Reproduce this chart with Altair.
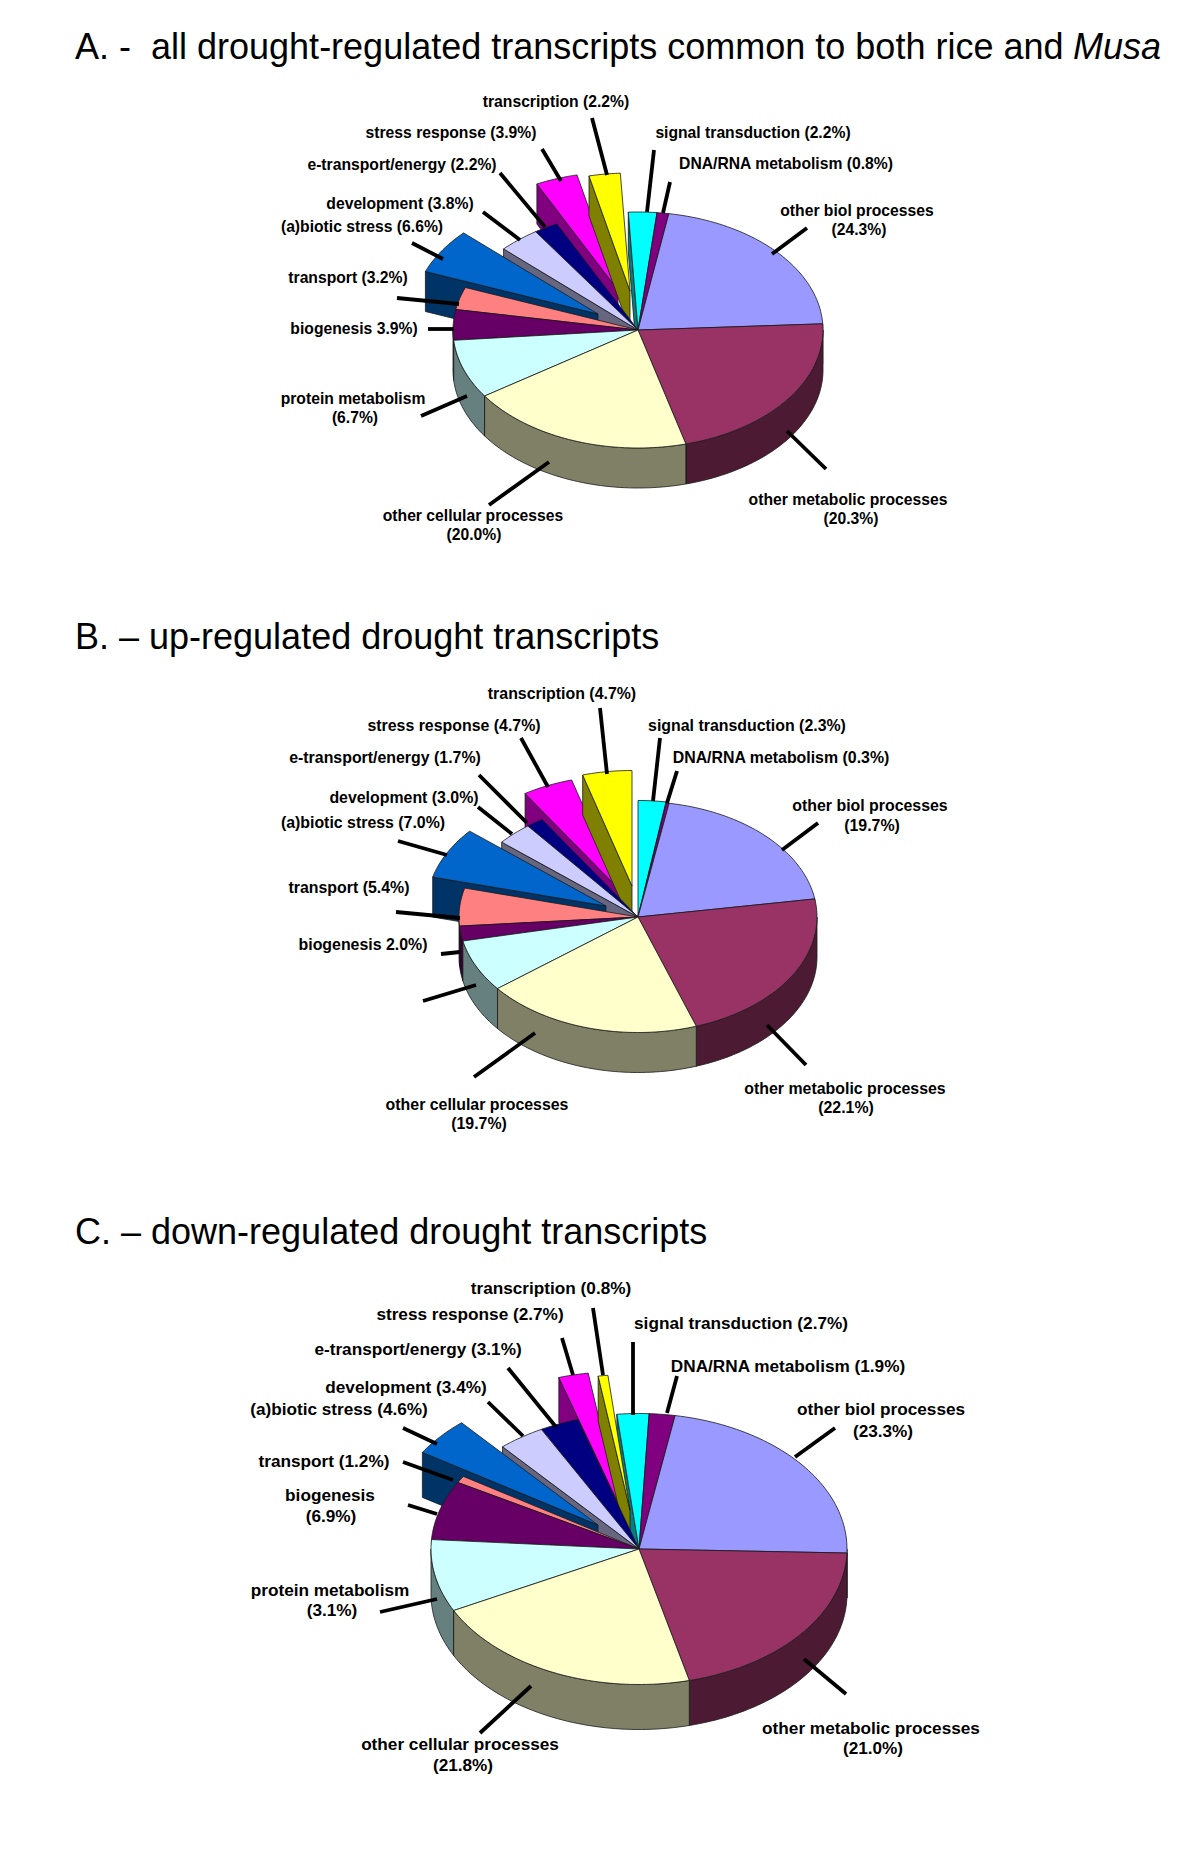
import math
import altair as alt

W, H = 1184, 1834
MARGIN = 8
FONT = "Liberation Sans"

# slice order, clockwise from the top of each pie
slices = ["signal", "dna", "biol", "metabolic", "cellular", "protein", "biogenesis",
          "transport", "abiotic", "development", "etransport", "stress", "transcription"]
top_colors = ["#00FFFF", "#800080", "#9999FF", "#993366", "#FFFFCC", "#CCFFFF", "#660066",
              "#FF8080", "#0066CC", "#CCCCFF", "#000080", "#FF00FF", "#FFFF00"]
side_colors = ["#008080", "#400040", "#4D4D80", "#4D1A33", "#808066", "#668080", "#330033",
               "#804040", "#003366", "#666680", "#000040", "#800080", "#808000"]
# back-to-front painting order
paint_order = [0, 1, 2, 3, 11, 12, 10, 9, 8, 7, 6, 5, 4]

# drawn size of every slice, in degrees
spans_a = [8.9, 3.7, 77.4, 78, 71, 29, 15, 11.1, 22.3, 13, 7.6, 13.2, 9.8]
spans_b = [9, 1, 71, 80, 70.7, 26.3, 7.5, 19, 25.9, 11.6, 5.6, 16.4, 16]
spans_c = [8.9, 7.2, 81.7, 74.3, 77, 31, 25.4, 3, 16.6, 13, 10.9, 8.3, 2.7]

# (dx, dy) explosion of every slice
explode_a = [(0, 0), (0, 0), (0, 0), (0, 0), (0, 0), (0, 0), (0, 0),
             (0, 0), (-40, -16), (0, 0), (0, 0), (-20, -40), (-8, -39)]
explode_b = [(0, -1), (0, 0), (0, 0), (0, 0), (0, 0), (0, 0), (0, 0),
             (0, 0), (-32, -11), (0, 0), (0, 0), (-17, -26), (-6, -31)]
explode_c = [(0, 0), (0, 0), (0, 0), (0, 0), (0, 0), (0, 0), (0, 0),
             (0, 0), (-41, -24), (0, 0), (0, 0), (-19, -42), (-9, -39)]

# name, centre x, centre y, rx, ry, depth, start angle
pies = [
    (spans_a, explode_a, 638, 330, 185, 118, 40, -3.0),
    (spans_b, explode_b, 638, 917, 179, 115.5, 40, 0.0),
    (spans_c, explode_c, 639, 1549, 208, 135.5, 45, -6.1),
]

titles = [
    ("A. -\u00a0\u00a0all drought-regulated transcripts common to both rice and", 75, 48, "normal", 36),
    ("Musa", 1073, 48, "italic", 36),
    ("B. \u2013 up-regulated drought transcripts", 75, 638, "normal", 36),
    ("C. \u2013 down-regulated drought transcripts", 75, 1233, "normal", 36),
]

# label text, x, y, font size
labels_a = [
    ("transcription (2.2%)", 556, 102), ("stress response (3.9%)", 451, 133),
    ("e-transport/energy (2.2%)", 402, 165), ("development (3.8%)", 400, 204),
    ("(a)biotic stress (6.6%)", 362, 227), ("transport (3.2%)", 348, 278),
    ("biogenesis 3.9%)", 354, 329), ("protein metabolism", 353, 399), ("(6.7%)", 355, 418),
    ("other cellular processes", 473, 516), ("(20.0%)", 474, 535),
    ("other metabolic processes", 848, 500), ("(20.3%)", 851, 519),
    ("other biol processes", 857, 211), ("(24.3%)", 859, 230),
    ("signal transduction (2.2%)", 753, 133), ("DNA/RNA metabolism (0.8%)", 786, 164),
]
labels_b = [
    ("transcription (4.7%)", 562, 694), ("stress response (4.7%)", 454, 726),
    ("e-transport/energy (1.7%)", 385, 758), ("development (3.0%)", 404, 798),
    ("(a)biotic stress (7.0%)", 363, 823), ("transport (5.4%)", 349, 888),
    ("biogenesis 2.0%)", 363, 945),
    ("other cellular processes", 477, 1105), ("(19.7%)", 479, 1124),
    ("other metabolic processes", 845, 1089), ("(22.1%)", 846, 1108),
    ("other biol processes", 870, 806), ("(19.7%)", 872, 826),
    ("signal transduction (2.3%)", 747, 726), ("DNA/RNA metabolism (0.3%)", 781, 758),
]
labels_c = [
    ("transcription (0.8%)", 551, 1289), ("stress response (2.7%)", 470, 1315),
    ("e-transport/energy (3.1%)", 418, 1350), ("development (3.4%)", 406, 1388),
    ("(a)biotic stress (4.6%)", 339, 1410), ("transport (1.2%)", 324, 1462),
    ("biogenesis", 330, 1496), ("(6.9%)", 331, 1517),
    ("protein metabolism", 330, 1591), ("(3.1%)", 332, 1611),
    ("other cellular processes", 460, 1745), ("(21.8%)", 463, 1766),
    ("other metabolic processes", 871, 1729), ("(21.0%)", 873, 1749),
    ("other biol processes", 881, 1410), ("(23.3%)", 883, 1432),
    ("signal transduction (2.7%)", 741, 1324), ("DNA/RNA metabolism (1.9%)", 788, 1367),
]

# leader lines: x1, y1, x2, y2
leaders = [
    (592, 118, 607, 175), (542, 149, 561, 181), (500, 173, 545, 227), (483, 212, 520, 240),
    (412, 243, 443, 259), (397, 298, 459, 304), (428, 329, 454, 329), (654, 150, 647, 212),
    (670, 182, 663, 213), (807, 228, 772, 254), (787, 431, 826, 469), (549, 462, 489, 505),
    (467, 396, 421, 416),
    (600, 708, 607, 774), (521, 738, 548, 787), (479, 775, 527, 823), (478, 807, 512, 834),
    (398, 841, 447, 855), (396, 912, 460, 918), (441, 954, 460, 952), (660, 738, 653, 801),
    (677, 771, 667, 803), (818, 823, 782, 850), (767, 1025, 806, 1065), (535, 1033, 474, 1077),
    (476, 985, 423, 1001),
    (593, 1308, 603, 1375), (562, 1338, 573, 1375), (508, 1368, 556, 1427), (488, 1402, 523, 1436),
    (403, 1428, 437, 1444), (403, 1462, 453, 1480), (408, 1505, 437, 1514), (633, 1342, 633, 1415),
    (677, 1376, 667, 1413), (835, 1428, 795, 1457), (804, 1659, 846, 1694), (531, 1686, 480, 1733),
    (437, 1599, 380, 1612),
]


def feature(points, fill):
    ring = [[x - MARGIN, y - MARGIN] for x, y in points]
    ring.append(ring[0])
    return {"type": "Feature", "properties": {"fill": fill},
            "geometry": {"type": "Polygon", "coordinates": [ring]}}


def rim(cx, cy, rx, ry, deg):
    r = math.radians(deg)
    return (cx + rx * math.sin(r), cy - ry * math.cos(r))


def arc(cx, cy, rx, ry, a1, a2):
    n = max(2, int(abs(a2 - a1) / 1.5) + 1)
    return [rim(cx, cy, rx, ry, a1 + (a2 - a1) * i / n) for i in range(n + 1)]


features = []
for spans, explode, cx, cy, rx, ry, depth, start in pies:
    edges = [start]
    for s in spans:
        edges.append(edges[-1] + s)
    for i in paint_order:
        a1, a2 = edges[i], edges[i + 1]
        px, py = cx + explode[i][0], cy + explode[i][1]
        top, side = top_colors[i], side_colors[i]
        # outer wall (only the part facing the viewer)
        lo, hi = max(a1, 90), min(a2, 270)
        if lo < hi:
            upper = arc(px, py, rx, ry, lo, hi)
            lower = [(x, y + depth) for x, y in reversed(upper)]
            features.append(feature(upper + lower, side))
        # cut faces that look toward the viewer
        for a, visible in ((a1, math.sin(math.radians(a1)) < 0), (a2, math.sin(math.radians(a2)) > 0)):
            if visible:
                e = rim(px, py, rx, ry, a)
                features.append(feature([(px, py), e, (e[0], e[1] + depth), (px, py + depth)], side))
        # top face
        features.append(feature([(px, py)] + arc(px, py, rx, ry, a1, a2), top))

shapes = alt.Chart(alt.Data(values=features)).mark_geoshape(
    stroke="#1a1a1a", strokeWidth=0.8, strokeJoin="round"
).encode(
    fill=alt.Fill("properties.fill:N", scale=None)
).project(type="identity", scale=1, translate=[0, 0])

rule_rows = [{"x": a - MARGIN, "y": b - MARGIN, "x2": c - MARGIN, "y2": d - MARGIN}
             for a, b, c, d in leaders]
rules = alt.Chart(alt.Data(values=rule_rows)).mark_rule(color="black", strokeWidth=3.8).encode(
    x=alt.X("x:Q", scale=None), y=alt.Y("y:Q", scale=None),
    x2="x2:Q", y2="y2:Q",
)

label_rows = []
for rows, size in ((labels_a, 15.7), (labels_b, 15.9), (labels_c, 17.2)):
    for t, x, y in rows:
        label_rows.append({"t": t, "x": x - MARGIN, "y": y - MARGIN, "s": size})
labels = alt.Chart(alt.Data(values=label_rows)).mark_text(
    font=FONT, fontWeight="bold", align="center", baseline="middle", color="black"
).encode(
    x=alt.X("x:Q", scale=None), y=alt.Y("y:Q", scale=None),
    text="t:N", size=alt.Size("s:Q", scale=None),
)

title_rows = [{"t": t, "x": x - MARGIN, "y": y - MARGIN, "st": st, "s": s}
              for t, x, y, st, s in titles if st == "normal"]
title_rows_i = [{"t": t, "x": x - MARGIN, "y": y - MARGIN, "s": s}
                for t, x, y, st, s in titles if st == "italic"]
head = alt.Chart(alt.Data(values=title_rows)).mark_text(
    font=FONT, align="left", baseline="middle", color="black"
).encode(
    x=alt.X("x:Q", scale=None), y=alt.Y("y:Q", scale=None),
    text="t:N", size=alt.Size("s:Q", scale=None),
)
head_i = alt.Chart(alt.Data(values=title_rows_i)).mark_text(
    font=FONT, fontStyle="italic", align="left", baseline="middle", color="black"
).encode(
    x=alt.X("x:Q", scale=None), y=alt.Y("y:Q", scale=None),
    text="t:N", size=alt.Size("s:Q", scale=None),
)

chart = alt.layer(shapes, rules, labels, head, head_i).properties(
    width=W, height=H, padding=0, autosize=alt.AutoSizeParams(type="none"),
    background="white",
).configure_view(stroke=None)

chart.save("out.html", embed_options={"renderer": "svg", "actions": False})
